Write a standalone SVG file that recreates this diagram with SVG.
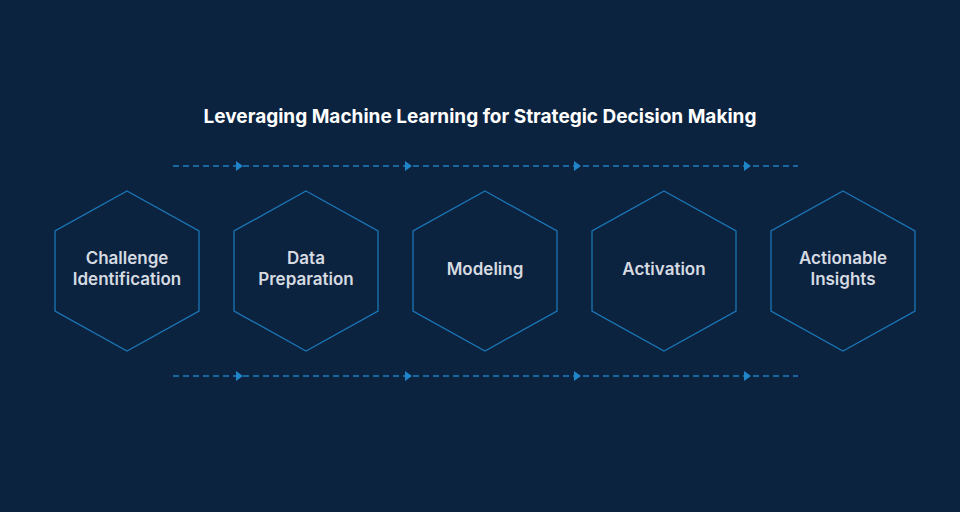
<svg xmlns="http://www.w3.org/2000/svg" width="960" height="512" viewBox="0 0 960 512">
<style>
.hex{fill:none;stroke:#1b75b5;stroke-width:1.3}
.lbl{font-family:Inter,"Liberation Sans",sans-serif;font-weight:600;font-size:17px;fill:#d6dbe2;text-anchor:middle}
.dash{stroke:#1f7fc0;stroke-width:1.3;stroke-dasharray:6 4;fill:none}
.ah{fill:#1f84c8}
</style>
<rect width="960" height="512" fill="#0c2340"/>
<text x="480" y="123" style="font-family:Inter,'Liberation Sans',sans-serif;font-weight:700;font-size:19px;fill:#ffffff;text-anchor:middle">Leveraging Machine Learning for Strategic Decision Making</text>
<g id="connectors">
<line class="dash" x1="173" y1="166" x2="798" y2="166"/>
<line class="dash" x1="173" y1="376" x2="798" y2="376"/>
<path class="ah" d="M236 161l7 5l-7 5z M405 161l7 5l-7 5z M574 161l7 5l-7 5z M744 161l7 5l-7 5z"/>
<path class="ah" d="M236 371l7 5l-7 5z M405 371l7 5l-7 5z M574 371l7 5l-7 5z M744 371l7 5l-7 5z"/>
</g>
<g id="n1"><polygon class="hex" points="127,191 199,231 199,311 127,351 55,311 55,231"/><text class="lbl" x="127" y="264">Challenge</text><text class="lbl" x="127" y="285">Identification</text></g>
<g id="n2"><polygon class="hex" points="306,191 378,231 378,311 306,351 234,311 234,231"/><text class="lbl" x="306" y="264">Data</text><text class="lbl" x="306" y="285">Preparation</text></g>
<g id="n3"><polygon class="hex" points="485,191 557,231 557,311 485,351 413,311 413,231"/><text class="lbl" x="485" y="275">Modeling</text></g>
<g id="n4"><polygon class="hex" points="664,191 736,231 736,311 664,351 592,311 592,231"/><text class="lbl" x="664" y="275">Activation</text></g>
<g id="n5"><polygon class="hex" points="843,191 915,231 915,311 843,351 771,311 771,231"/><text class="lbl" x="843" y="264">Actionable</text><text class="lbl" x="843" y="285">Insights</text></g>
</svg>
